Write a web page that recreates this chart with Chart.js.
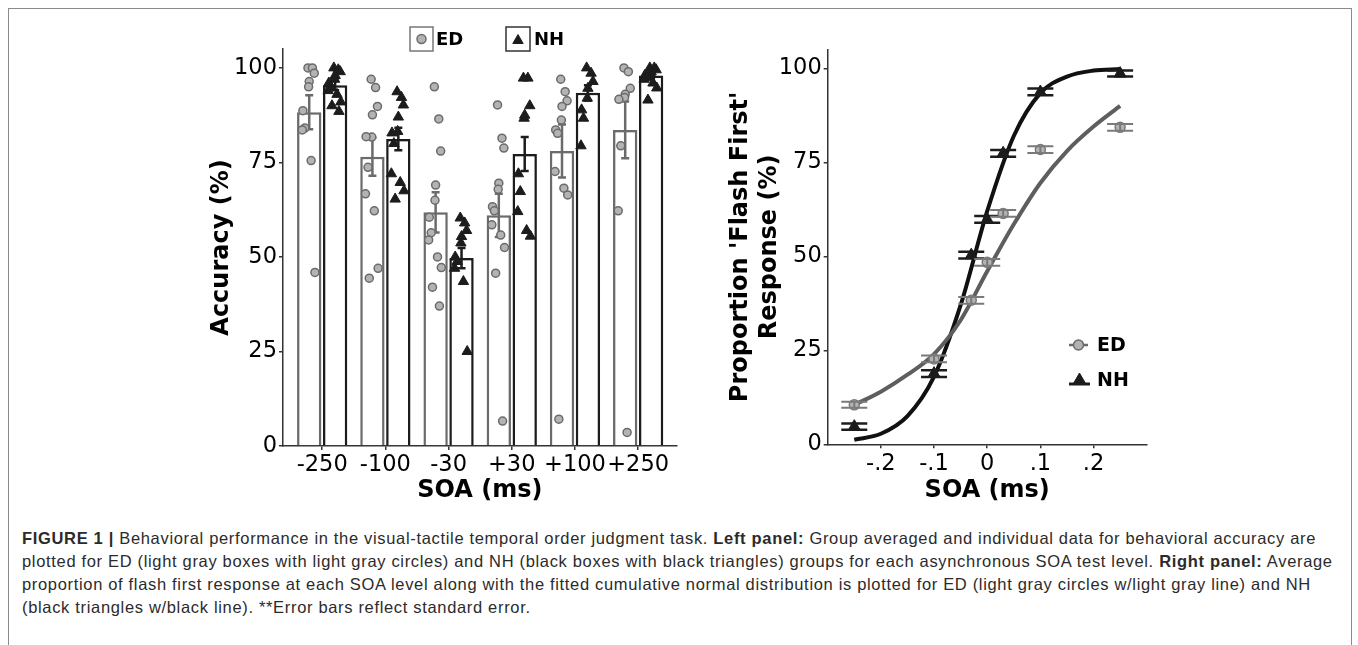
<!DOCTYPE html>
<html>
<head>
<meta charset="utf-8">
<script src="https://cdn.jsdelivr.net/npm/chart.js@4.4.0/dist/chart.umd.min.js"></script>
<style>
  body { margin: 0; background: #fff; width: 1358px; height: 645px; overflow: hidden; position: relative; }
  #frame { position: absolute; left: 8px; top: 8px; width: 1344px; height: 700px; border: 1.5px solid #8a8a8a; box-sizing: border-box; }
  canvas { position: absolute; top: 0; }
  #accuracyChart { left: 190px; }
  #flashChart { left: 700px; }
  #caption { position: absolute; left: 22px; top: 527px; font-family: "Liberation Sans", Arial, sans-serif; font-size: 16.5px; letter-spacing: 0.67px; line-height: 23px; color: #2b2b2b; white-space: nowrap; }
</style>
</head>
<body>
<div id="frame"></div>
<canvas id="accuracyChart" width="500" height="510"></canvas>
<canvas id="flashChart" width="500" height="510"></canvas>
<div id="caption">
<b>FIGURE 1 |</b> Behavioral performance in the visual-tactile temporal order judgment task. <b>Left panel:</b> Group averaged and individual data for behavioral accuracy are<br>
plotted for ED (light gray boxes with light gray circles) and NH (black boxes with black triangles) groups for each asynchronous SOA test level. <b>Right panel:</b> Average<br>
proportion of flash first response at each SOA level along with the fitted cumulative normal distribution is plotted for ED (light gray circles w/light gray line) and NH<br>
(black triangles w/black line). **Error bars reflect standard error.
</div>
<script>
// Left panel: accuracy per SOA level
const soaLabels = ['-250', '-100', '-30', '+30', '+100', '+250'];
const edAccuracy = [88.3, 76.5, 61.8, 61.0, 78.0, 83.6];
const nhAccuracy = [95.4, 81.2, 49.7, 77.2, 93.4, 98.0];
const edAccuracySE = [4.5, 5.0, 5.3, 5.7, 7.0, 7.5];
const nhAccuracySE = [1.3, 3.0, 2.7, 4.5, 2.0, 0.8];

// Individual subjects
const edIndividual = [
  [100, 100, 98.6, 96.4, 95, 88.7, 84.1, 83.6, 75.5, 45.9],
  [97, 94.8, 89.8, 87.6, 81.7, 81.8, 73.7, 66.7, 62.2, 47, 44.4],
  [95, 86.5, 78, 69, 65, 60.5, 56.4, 54.5, 50, 47.2, 42, 37],
  [90.2, 81.4, 78.8, 69.5, 67.9, 63.3, 62.2, 58.5, 55.8, 52.5, 45.7, 6.6],
  [97, 93.7, 91.3, 89.8, 86.2, 83.6, 82.7, 72.6, 68.2, 66.4, 7.1],
  [100, 99, 94.6, 93, 92.2, 91.7, 79.4, 62.2, 3.6]
];
const nhIndividual = [
  [100, 99.5, 99, 98, 97, 96, 95, 94, 93, 91, 90, 88.5],
  [93.7, 92.2, 90.2, 87, 83.2, 82.8, 80, 72, 69.7, 67.5, 65.3],
  [60.3, 59, 57, 55.4, 53.7, 50, 48.8, 47, 43.5, 25],
  [97.3, 97.3, 90, 87.5, 86.7, 72, 67.3, 62, 57, 55.5],
  [100, 98.6, 96.4, 94.6, 92, 88.9, 86.7, 79.4],
  [100, 100, 99.5, 99, 98.5, 98, 97.5, 97, 96, 94.7, 91.5]
];
const jitter = [-0.02, 0.05, 0.08, 0, -0.01, -0.1, -0.07, -0.11, 0.03, 0.09, -0.05, 0.06];

// Right panel: proportion 'flash first'
const soaSeconds = [-0.25, -0.1, -0.03, 0, 0.03, 0.1, 0.25];
const edFlashFirst = [10.5, 22.7, 38.3, 48.4, 61.4, 78.4, 84.3];
const nhFlashFirst = [4.7, 18.8, 50.3, 59.8, 77.4, 93.7, 98.6];
const edFlashSE = [0.8, 0.9, 0.9, 0.9, 0.9, 0.9, 0.9];
const nhFlashSE = [0.8, 0.9, 0.9, 0.9, 0.9, 0.9, 0.8];

// Fitted curves
const fitSoa = [-0.25, -0.2, -0.15, -0.1, -0.05, 0, 0.05, 0.1, 0.15, 0.2, 0.25];
const edFit = [10.5, 14, 18.5, 24, 33, 46, 58.5, 69.5, 78, 84.5, 90];
const nhFit = [1.2, 2.8, 7.5, 18, 37, 62, 82, 93.4, 97.8, 99.4, 99.8];

const percentTicks = [0, 25, 50, 75, 100];
const soaTicks = [-0.2, -0.1, 0, 0.1, 0.2];
const soaTickLabels = ['-.2', '-.1', '0', '.1', '.2'];

const ED_DARK = '#6b6b6b';
const ED_FILL = '#b3b3b3';
const NH_DARK = '#1c1c1c';

Chart.defaults.font.family = '"DejaVu Sans", sans-serif';
Chart.defaults.color = '#000';

// draws error bars after the dataset they belong to
const errorBarPlugin = {
  id: 'errorBars',
  afterDatasetDraw(chart, args) {
    const ds = chart.data.datasets[args.index];
    if (!ds.errorBars) return;
    const ctx = chart.ctx;
    const yScale = chart.scales.y;
    ctx.save();
    ctx.strokeStyle = ds.errorColor;
    ctx.lineWidth = ds.errorWidth;
    args.meta.data.forEach((el, i) => {
      const v = ds.data[i].y;
      const se = ds.errorBars[i];
      const top = yScale.getPixelForValue(v + se);
      const bot = yScale.getPixelForValue(v - se);
      const half = ds.capHalf;
      ctx.beginPath();
      ctx.moveTo(el.x, top);
      ctx.lineTo(el.x, bot);
      ctx.moveTo(el.x - half, top);
      ctx.lineTo(el.x + half, top);
      ctx.moveTo(el.x - half, bot);
      ctx.lineTo(el.x + half, bot);
      ctx.stroke();
    });
    ctx.restore();
  }
};

function legendMarker(ctx, style, x, y, r, fill, stroke, bw) {
  ctx.save();
  ctx.fillStyle = fill;
  ctx.strokeStyle = stroke;
  ctx.lineWidth = bw;
  Chart.helpers.drawPoint(ctx, { pointStyle: style, radius: r, borderWidth: bw, rotation: 0 }, x, y);
  ctx.restore();
}

const accuracyLegend = {
  id: 'accuracyLegend',
  afterDraw(chart) {
    const ctx = chart.ctx;
    ctx.save();
    ctx.lineWidth = 1.5;
    ctx.strokeStyle = '#777';
    ctx.strokeRect(220, 27, 23, 24);
    legendMarker(ctx, 'circle', 231.5, 39, 4.5, ED_FILL, ED_DARK, 1.5);
    ctx.strokeStyle = '#333';
    ctx.lineWidth = 1.5;
    ctx.strokeRect(316, 27, 24, 24);
    legendMarker(ctx, 'triangle', 328, 40.5, 6, NH_DARK, NH_DARK, 1);
    ctx.fillStyle = '#000';
    ctx.font = 'bold 18px "DejaVu Sans"';
    ctx.textBaseline = 'middle';
    ctx.fillText('ED', 246, 40);
    ctx.fillText('NH', 344, 40);
    ctx.restore();
  }
};

const flashLegend = {
  id: 'flashLegend',
  afterDraw(chart) {
    const ctx = chart.ctx;
    ctx.save();
    ctx.lineWidth = 2.5;
    ctx.strokeStyle = ED_DARK;
    ctx.beginPath();
    ctx.moveTo(369, 345);
    ctx.lineTo(388, 345);
    ctx.stroke();
    legendMarker(ctx, 'circle', 378.5, 345, 5, ED_FILL, ED_DARK, 1.5);
    ctx.strokeStyle = NH_DARK;
    ctx.lineWidth = 3;
    ctx.beginPath();
    ctx.moveTo(369, 384);
    ctx.lineTo(390, 384);
    ctx.stroke();
    legendMarker(ctx, 'triangle', 379.5, 380, 7, NH_DARK, NH_DARK, 1);
    ctx.fillStyle = '#000';
    ctx.font = 'bold 19px "DejaVu Sans"';
    ctx.textBaseline = 'middle';
    ctx.fillText('ED', 397, 346);
    ctx.fillText('NH', 397, 381);
    ctx.restore();
  }
};

function individualPoints(groups, shift) {
  const pts = [];
  groups.forEach((vals, i) => {
    vals.forEach((v, j) => pts.push({ x: i + shift + jitter[j % jitter.length], y: v }));
  });
  return pts;
}

function percentAxis(width, titleText, titlePadTop, titleLineHeight) {
  return {
    min: 0,
    max: 105,
    afterBuildTicks: s => { s.ticks = percentTicks.map(v => ({ value: v })); },
    afterFit: s => { s.width = width; },
    border: { color: '#333', width: 1.5 },
    grid: { drawOnChartArea: false, tickLength: 4, color: '#333', lineWidth: 1.5 },
    ticks: { font: { size: 22.5 }, color: '#000', padding: 2 },
    title: {
      display: true,
      text: titleText,
      font: { size: 24, weight: 'bold', lineHeight: titleLineHeight },
      color: '#000',
      padding: { top: titlePadTop, bottom: 0 }
    }
  };
}

new Chart(document.getElementById('accuracyChart'), {
  type: 'bar',
  data: {
    datasets: [
      {
        type: 'scatter',
        label: 'ED subjects',
        data: individualPoints(edIndividual, -0.205),
        pointStyle: 'circle',
        pointRadius: 4,
        pointBackgroundColor: ED_FILL,
        pointBorderColor: ED_DARK,
        pointBorderWidth: 1.5,
        order: 1
      },
      {
        type: 'scatter',
        label: 'NH subjects',
        data: individualPoints(nhIndividual, 0.205),
        pointStyle: 'triangle',
        pointRadius: 6,
        pointBackgroundColor: NH_DARK,
        pointBorderColor: NH_DARK,
        pointBorderWidth: 1,
        order: 1
      },
      {
        label: 'ED',
        data: edAccuracy.map((v, i) => ({ x: i, y: v })),
        backgroundColor: 'rgba(255,255,255,0.7)',
        borderColor: ED_DARK,
        borderWidth: 2.5,
        errorBars: edAccuracySE,
        errorColor: ED_DARK,
        errorWidth: 2.5,
        capHalf: 4,
        order: 2
      },
      {
        label: 'NH',
        data: nhAccuracy.map((v, i) => ({ x: i, y: v })),
        backgroundColor: 'rgba(255,255,255,0.7)',
        borderColor: NH_DARK,
        borderWidth: 2.5,
        errorBars: nhAccuracySE,
        errorColor: NH_DARK,
        errorWidth: 2.5,
        capHalf: 4,
        order: 2
      }
    ]
  },
  options: {
    responsive: false,
    animation: false,
    events: [],
    devicePixelRatio: 1,
    categoryPercentage: 0.82,
    barPercentage: 0.94,
    layout: { padding: { top: 49, right: 13.3, bottom: 0, left: 0 } },
    plugins: { legend: { display: false }, tooltip: { enabled: false } },
    scales: {
      x: {
        type: 'linear',
        min: -0.62,
        max: 5.61,
        offset: false,
        afterBuildTicks: s => { s.ticks = soaLabels.map((l, i) => ({ value: i })); },
        afterFit: s => { s.height = 64; },
        border: { color: '#333', width: 1.5 },
        grid: { drawOnChartArea: false, offset: false, tickLength: 4, color: '#333', lineWidth: 1.5 },
        ticks: { font: { size: 22.5 }, color: '#000', padding: 2, callback: v => soaLabels[v] },
        title: { display: true, text: 'SOA (ms)', font: { size: 24, weight: 'bold' }, color: '#000', padding: { top: 0, bottom: 4.6 } }
      },
      y: percentAxis(93, 'Accuracy (%)', 17.6, 1.2)
    }
  },
  plugins: [errorBarPlugin, accuracyLegend]
});

new Chart(document.getElementById('flashChart'), {
  type: 'line',
  data: {
    datasets: [
      {
        label: 'ED fit',
        data: fitSoa.map((x, i) => ({ x: x, y: edFit[i] })),
        borderColor: '#5e5e5e',
        borderWidth: 4,
        pointRadius: 0,
        cubicInterpolationMode: 'monotone',
        order: 2
      },
      {
        label: 'NH fit',
        data: fitSoa.map((x, i) => ({ x: x, y: nhFit[i] })),
        borderColor: '#111',
        borderWidth: 4,
        pointRadius: 0,
        cubicInterpolationMode: 'monotone',
        order: 2
      },
      {
        label: 'ED',
        data: soaSeconds.map((x, i) => ({ x: x, y: edFlashFirst[i] })),
        showLine: false,
        pointStyle: 'circle',
        pointRadius: 5,
        pointBackgroundColor: ED_FILL,
        pointBorderColor: '#7a7a7a',
        pointBorderWidth: 1.5,
        errorBars: edFlashSE,
        errorColor: '#7a7a7a',
        errorWidth: 2,
        capHalf: 13,
        order: 1
      },
      {
        label: 'NH',
        data: soaSeconds.map((x, i) => ({ x: x, y: nhFlashFirst[i] })),
        showLine: false,
        pointStyle: 'triangle',
        pointRadius: 7,
        pointBackgroundColor: NH_DARK,
        pointBorderColor: NH_DARK,
        pointBorderWidth: 1,
        errorBars: nhFlashSE,
        errorColor: NH_DARK,
        errorWidth: 2.5,
        capHalf: 13,
        order: 1
      }
    ]
  },
  options: {
    responsive: false,
    animation: false,
    events: [],
    devicePixelRatio: 1,
    layout: { padding: { top: 49.5, right: 53.3, bottom: 0, left: 0 } },
    plugins: { legend: { display: false }, tooltip: { enabled: false } },
    scales: {
      x: {
        type: 'linear',
        min: -0.3,
        max: 0.3,
        afterBuildTicks: s => { s.ticks = soaTicks.map(v => ({ value: v })); },
        afterFit: s => { s.height = 65.7; },
        border: { color: '#333', width: 1.5 },
        grid: { drawOnChartArea: false, tickLength: 4, color: '#333', lineWidth: 1.5 },
        ticks: { font: { size: 22.5 }, color: '#000', padding: 2, callback: v => soaTickLabels[soaTicks.indexOf(v)] },
        title: { display: true, text: 'SOA (ms)', font: { size: 24, weight: 'bold' }, color: '#000', padding: { top: 0, bottom: 4.6 } }
      },
      y: percentAxis(127.7, ["Proportion 'Flash First'", 'Response (%)'], 26.6, 1.2)
    }
  },
  plugins: [errorBarPlugin, flashLegend]
});
</script>
</body>
</html>
